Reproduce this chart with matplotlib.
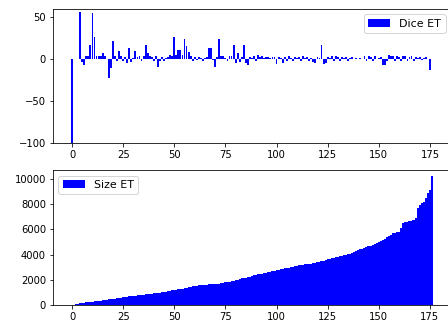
import matplotlib
matplotlib.use("Agg")
import matplotlib.pyplot as plt

# change in Dice per case (top) and enhancing tumour size (bottom)
dice_et = [
    -100, 0, 0, 0, 55, -4, -7, 3, 3, 17,
    54, 26, 4, 3, 4, 7, 3, 0, -22, -11,
    21, 3, -3, 9, 3, -3, 2, -5, 13, -4,
    1, 9, 2, 3, -2, 3, 16, 7, 3, 2,
    -2, 3, -9, -2, 2, -2, 1, 2, 5, 4,
    26, 5, 11, 11, 5, 23, 15, 8, 3, -2,
    2, -1, 2, 1, -2, 1, 2, 13, 13, -1,
    -9, 2, 24, 3, 3, 1, -3, 3, 3, 17,
    -5, 7, -4, 2, 16, -5, -7, 2, 1, 3,
    -3, 5, 2, 3, 1, 2, 2, 1, 2, 2,
    -6, 2, 1, -5, 2, -2, 3, 1, -3, 2,
    1, 2, -2, 3, 1, 2, -2, 1, -4, -5,
    2, 1, 16, -6, -5, 2, 1, 4, -3, 3,
    2, -2, 2, 1, 2, -2, 1, 2, 0, 1,
    0, 1, 0, 3, -3, 4, 2, -2, 3, 0,
    1, 2, -7, -7, -2, 5, 3, 3, -3, 4,
    2, -2, 3, 3, -3, 2, 3, -2, 2, 1,
    2, -1, 1, 2, 0, -13, 0,
]

size_et = [
    10, 30, 60, 90, 120, 150, 180, 200, 230, 250,
    270, 290, 310, 330, 350, 370, 400, 420, 440, 460,
    490, 510, 540, 560, 590, 620, 650, 660, 680, 700,
    720, 740, 760, 780, 800, 830, 850, 870, 890, 910,
    930, 950, 970, 990, 1010, 1040, 1070, 1100, 1120, 1150,
    1180, 1200, 1230, 1260, 1290, 1320, 1360, 1400, 1440, 1480,
    1510, 1540, 1570, 1590, 1600, 1610, 1620, 1630, 1640, 1645,
    1650, 1670, 1700, 1730, 1760, 1790, 1820, 1850, 1880, 1910,
    1950, 2000, 2060, 2110, 2150, 2180, 2220, 2260, 2300, 2350,
    2400, 2430, 2460, 2490, 2520, 2560, 2600, 2640, 2680, 2720,
    2760, 2800, 2840, 2870, 2900, 2930, 2960, 2990, 3020, 3060,
    3100, 3150, 3180, 3200, 3220, 3240, 3260, 3290, 3320, 3360,
    3400, 3440, 3480, 3530, 3580, 3620, 3670, 3710, 3760, 3800,
    3840, 3870, 3900, 3930, 3970, 4020, 4080, 4140, 4200, 4280,
    4360, 4420, 4480, 4540, 4600, 4660, 4720, 4780, 4840, 4900,
    4960, 5040, 5120, 5220, 5400, 5480, 5560, 5680, 5740, 5780,
    5820, 6100, 6480, 6560, 6620, 6660, 6700, 6740, 6900, 7700,
    7900, 8080, 8200, 8470, 8870, 9150, 10200,
]

cases = list(range(len(dice_et)))

fig = plt.figure(figsize=(448 / 72, 327 / 72), dpi=72)
plt.rc("font", size=10)

# top plot
ax1 = fig.add_axes([0.1183, 0.5612, 0.8884, 0.4113])
ax1.bar(cases, dice_et, width=0.9, color="blue", label="Dice ET")
ax1.set_ylim(-100, 59)
ax1.set_yticks([-100, -50, 0, 50])
ax1.legend(loc="upper right", fontsize=11)

# bottom plot
ax2 = fig.add_axes([0.1183, 0.0673, 0.8884, 0.4128])
ax2.bar(range(len(size_et)), size_et, width=1.0, color="blue", label="Size ET")
ax2.set_xticks([0, 25, 50, 75, 100, 125, 150, 175])
ax2.set_yticks([0, 2000, 4000, 6000, 8000, 10000])
ax2.legend(loc="upper left", fontsize=11)

fig.savefig("out.png", dpi=72)
